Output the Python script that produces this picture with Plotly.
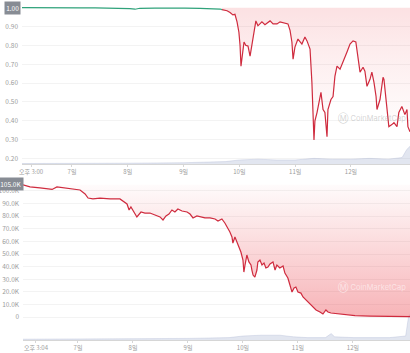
import plotly.graph_objects as go

# ---- top panel: price (USD), hours since 5/6 00:00 ----
top_hours_up = [2.5, 8.1, 14.5, 21.0, 27.4, 33.9, 40.3, 44.6, 46.8, 48.9, 51.1, 53.2,
                59.7, 66.1, 72.6, 79.1, 84.2, 87.7, 88.5]
top_price_up = [1.000, 0.999, 1.000, 0.998, 0.999, 0.999, 0.998, 0.997, 0.993, 0.995,
                0.992, 0.997, 0.998, 0.999, 0.998, 0.997, 0.996, 0.993, 0.990]

top_hours_dn = [88.5, 90.7, 92.0, 93.2, 94.1, 95.0, 95.8, 96.3, 96.7, 97.1, 98.0, 98.8,
                99.7, 100.6, 101.4, 101.8, 103.1, 104.0, 104.9, 105.7, 107.0, 109.2,
                110.5, 112.2, 113.5, 115.2, 116.9, 117.8, 118.6, 119.1, 119.9, 121.2,
                122.9, 124.2, 125.1, 126.4, 127.2, 128.1, 128.5, 129.4, 130.2, 131.1,
                132.0, 132.8, 133.7, 134.1, 135.4, 136.3, 137.1, 138.0, 139.3, 140.6,
                142.3, 143.6, 144.9, 146.1, 147.0, 147.9, 149.2, 150.0, 150.9, 152.2,
                153.0, 153.9, 154.8, 155.2, 156.5, 157.8, 158.2, 159.5, 160.3, 161.6,
                162.5, 163.8, 164.6, 165.9, 166.4, 167.2, 168.1, 168.5, 169.4]
top_price_dn = [0.990, 0.984, 0.975, 0.962, 0.965, 0.925, 0.870, 0.800, 0.690, 0.740,
                0.818, 0.800, 0.797, 0.743, 0.800, 0.850, 0.930, 0.904, 0.915, 0.925,
                0.910, 0.930, 0.914, 0.914, 0.925, 0.920, 0.914, 0.880, 0.818, 0.727,
                0.791, 0.834, 0.807, 0.845, 0.824, 0.781, 0.604, 0.299, 0.400, 0.444,
                0.497, 0.551, 0.460, 0.444, 0.316, 0.460, 0.513, 0.529, 0.636, 0.690,
                0.674, 0.711, 0.765, 0.807, 0.824, 0.818, 0.727, 0.658, 0.684, 0.663,
                0.583, 0.620, 0.658, 0.604, 0.529, 0.460, 0.513, 0.631, 0.620, 0.476,
                0.369, 0.380, 0.390, 0.369, 0.444, 0.476, 0.460, 0.433, 0.460, 0.369,
                0.342]
top_open = 1.00

top_vol_hours = [2.5, 24, 48, 72, 90, 96, 104, 112, 120, 128, 136, 144, 152, 160, 166, 168, 169.4]
top_vol = [0.3, 0.3, 0.5, 0.8, 1.5, 2.5, 3.0, 2.5, 2.5, 3.5, 3.0, 3.0, 3.5, 3.0, 4.0, 9.0, 11.0]

top_tickvals = [6.4, 24, 48, 72, 96, 120, 144]
top_ticktext = ["오후 3:00", "7일", "8일", "9일", "10일", "11일", "12일"]
top_yticks = [0.2, 0.3, 0.4, 0.5, 0.6, 0.7, 0.8, 0.9]

# ---- bottom panel: price (KRW, thousands) ----
bot_hours = [0.0, 3.05, 7.4, 10.5, 12.7, 14.8, 17.5, 20.5, 24.9, 27.1, 28.4, 30.5, 33.6,
             38.0, 42.3, 45.4, 46.3, 47.1, 48.4, 49.7, 51.5, 53.2, 55.4, 57.6, 59.8,
             61.1, 62.4, 63.7, 65.0, 66.3, 67.6, 69.4, 71.6, 72.9, 74.2, 75.9, 77.2,
             79.4, 81.6, 83.8, 85.1, 86.8, 88.1, 89.5, 90.3, 91.2, 91.6, 92.5, 93.4,
             94.3, 95.1, 96.0, 96.4, 96.9, 97.7, 98.6, 99.5, 99.9, 100.4, 101.2, 102.1,
             102.5, 103.4, 104.3, 105.2, 106.0, 106.9, 107.8, 109.1, 110.0, 110.8,
             112.1, 113.5, 114.3, 115.6, 116.5, 117.4, 118.3, 119.1, 120.0, 121.3,
             122.2, 123.5, 125.2, 126.5, 127.9, 129.6, 130.9, 132.2, 133.1, 134.4,
             138.3, 144.9, 151.4, 160.1, 168.9]
bot_price = [104.8, 103.2, 102.4, 101.6, 101.2, 103.2, 102.4, 101.6, 100.8, 97.6, 94.4,
             93.7, 94.4, 93.7, 93.7, 89.7, 84.9, 87.3, 83.3, 79.4, 83.3, 82.5, 82.5,
             81.0, 79.4, 77.0, 80.2, 81.7, 84.9, 83.3, 85.7, 84.1, 83.3, 81.7, 78.6,
             80.2, 79.4, 78.6, 78.6, 77.8, 76.2, 77.8, 74.6, 70.6, 67.5, 63.5, 58.7,
             63.5, 59.5, 55.6, 51.6, 45.2, 35.7, 41.3, 49.2, 43.7, 41.3, 37.3, 33.3,
             31.7, 37.3, 43.7, 45.2, 41.3, 42.9, 38.9, 39.7, 42.1, 43.7, 37.3, 41.3,
             38.9, 40.5, 34.9, 31.0, 25.4, 19.8, 23.0, 23.8, 19.8, 19.0, 15.9, 13.5,
             11.1, 7.9, 5.6, 4.0, 2.4, 5.6, 4.0, 3.2, 2.4, 1.2, 0.8, 0.4, 0.4]
bot_open = 105.0

bot_vol_hours = [0, 24, 48, 72, 90, 96, 104, 112, 118, 124, 132, 134.5, 136, 144, 152, 160, 167, 168.3, 168.9]
bot_vol = [0.5, 0.6, 0.8, 1.0, 1.5, 2.5, 3.0, 3.0, 2.0, 1.5, 1.5, 4.0, 2.0, 1.5, 1.5, 1.5, 2.5, 15, 16]

bot_tickvals = [5.67, 24, 48, 72, 96, 120, 144]
bot_ticktext = ["오후 3:04", "7일", "8일", "9일", "10일", "11일", "12일"]
bot_yticks = [0, 10, 20, 30, 40, 50, 60, 70, 80, 90, 100]
bot_yticktext = ["0"] + [f"{v:.1f}K" for v in bot_yticks[1:]]

RED = "#cf2b3e"
GREEN = "#2fa27a"
VOLC = "rgba(160,172,205,0.30)"
FONT = "Noto Sans CJK KR, Inter, sans-serif"
TICKC = "#9c9c9c"

fig = go.Figure()

# volumes (base axes, drawn behind)
fig.add_trace(go.Scatter(x=top_vol_hours, y=top_vol, xaxis="x", yaxis="y", mode="lines",
                         line=dict(width=0.6, color="rgba(160,172,205,0.5)"), fill="tozeroy",
                         fillcolor=VOLC, hoverinfo="skip"))
fig.add_trace(go.Scatter(x=bot_vol_hours, y=bot_vol, xaxis="x2", yaxis="y2", mode="lines",
                         line=dict(width=0.6, color="rgba(160,172,205,0.5)"), fill="tozeroy",
                         fillcolor=VOLC, hoverinfo="skip"))

# top price
fig.add_trace(go.Scatter(x=[top_hours_dn[0], top_hours_dn[-1]], y=[top_open, top_open],
                         xaxis="x", yaxis="y3", mode="lines", line=dict(width=0), hoverinfo="skip"))
fig.add_trace(go.Scatter(x=top_hours_dn, y=top_price_dn, xaxis="x", yaxis="y3", mode="lines",
                         line=dict(color=RED, width=1.2), fill="tonexty",
                         fillgradient=dict(type="vertical", start=0.3, stop=1.0,
                                           colorscale=[[0, "rgba(234,57,67,0.0)"],
                                                       [0.6, "rgba(234,57,67,0.08)"],
                                                       [1, "rgba(234,57,67,0.15)"]])))
fig.add_trace(go.Scatter(x=top_hours_up, y=top_price_up, xaxis="x", yaxis="y3", mode="lines",
                         line=dict(color=GREEN, width=1.2)))

# bottom price
fig.add_trace(go.Scatter(x=[bot_hours[0], bot_hours[-1]], y=[bot_open * 1000] * 2,
                         xaxis="x2", yaxis="y4", mode="lines", line=dict(width=0), hoverinfo="skip"))
fig.add_trace(go.Scatter(x=bot_hours, y=[v * 1000 for v in bot_price], xaxis="x2", yaxis="y4",
                         mode="lines", line=dict(color=RED, width=1.2), fill="tonexty",
                         fillgradient=dict(type="vertical", start=0, stop=105000,
                                           colorscale=[[0, "rgba(234,57,67,0.38)"],
                                                       [1, "rgba(234,57,67,0.02)"]])))

W, H = 410, 353
def px_y(top, bot):
    return [(H - bot) / H, (H - top) / H]

xcommon = dict(showgrid=False, zeroline=False, showline=True, linecolor="#d6d6d6", linewidth=1,
               ticks="outside", ticklen=2, tickcolor="#d6d6d6",
               tickfont=dict(size=6, color=TICKC, family=FONT), automargin=False)
ycommon = dict(showgrid=True, gridcolor="#f3f3f3", gridwidth=1, zeroline=False, showline=False,
               ticks="", tickfont=dict(size=6.5, color=TICKC, family=FONT), automargin=False,
               ticklabelstandoff=3)

fig.update_layout(
    width=W, height=H, margin=dict(l=0, r=0, t=0, b=0),
    paper_bgcolor="white", plot_bgcolor="white", showlegend=False,
    font=dict(family=FONT),
    xaxis=dict(domain=[22 / W, 1], range=[2.5, 169.4], tickvals=top_tickvals,
               ticktext=top_ticktext, anchor="y", **xcommon),
    yaxis=dict(domain=px_y(3, 164), range=[0, 100], visible=False, anchor="x"),
    yaxis3=dict(overlaying="y", anchor="x", side="left", range=[0.171, 1.025],
                tickvals=top_yticks, tickformat=".2f", **ycommon),
    xaxis2=dict(domain=[23 / W, 1], range=[0, 168.9], tickvals=bot_tickvals,
                ticktext=bot_ticktext, anchor="y2", **xcommon),
    yaxis2=dict(domain=px_y(180, 340), range=[0, 100], visible=False, anchor="x2"),
    yaxis4=dict(overlaying="y2", anchor="x2", side="left", range=[-18200, 108700],
                tickvals=[v * 1000 for v in bot_yticks], ticktext=bot_yticktext, **ycommon),
)

box = dict(showarrow=False, bgcolor="#878c94", font=dict(size=6.5, color="white", family=FONT),
           borderpad=1.2, xanchor="right")
fig.add_annotation(text="1.00", xref="x domain", yref="y3", x=0, y=top_open, xshift=-1, **box)
fig.add_annotation(text="105.0K", xref="x2 domain", yref="y4", x=0, y=bot_open * 1000, xshift=1,
                   yshift=1, **box)

# watermarks
wm = dict(showarrow=False, xanchor="right", font=dict(size=7.5, color="rgba(150,150,150,0.4)", family="Inter"))
fig.add_annotation(text="Ⓜ CoinMarketCap", xref="paper", yref="paper", x=408 / W, y=(H - 118) / H, **wm)
fig.add_annotation(text="Ⓜ CoinMarketCap", xref="paper", yref="paper", x=408 / W, y=(H - 295) / H,
                   **{**wm, "font": dict(size=7.5, color="rgba(255,255,255,0.55)", family="Inter")})

fig.write_html("out.html")
